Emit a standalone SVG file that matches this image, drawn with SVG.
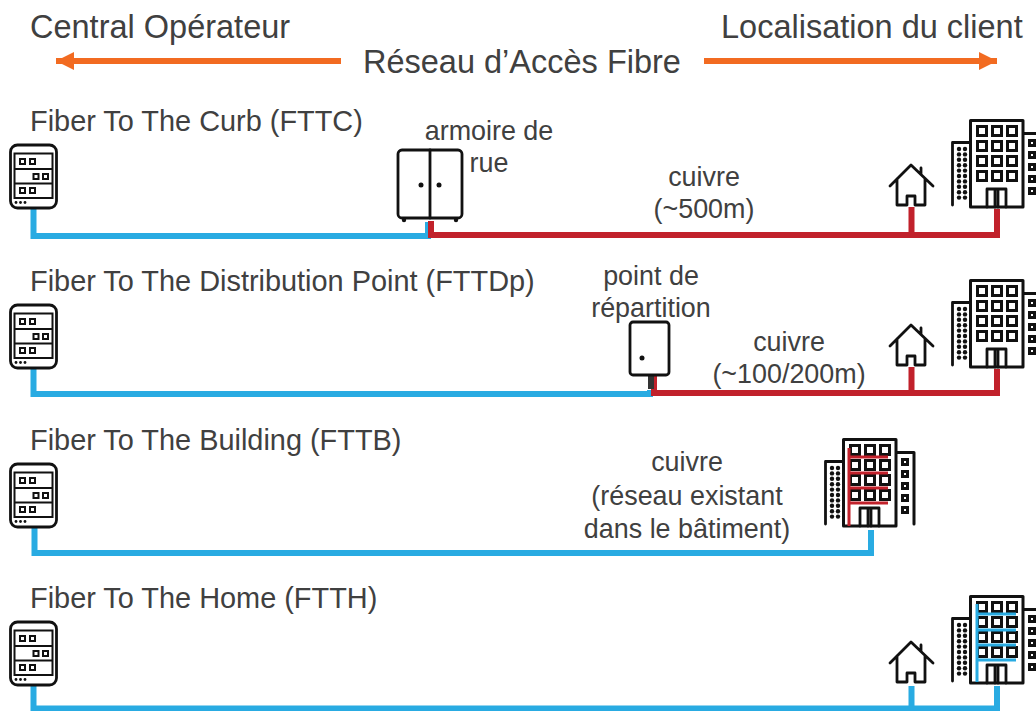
<svg xmlns="http://www.w3.org/2000/svg" width="1036" height="711" viewBox="0 0 1036 711">
<style>
text{font-family:"Liberation Sans",Arial,sans-serif;fill:#404040}
.h{font-size:32.500px}.r{font-size:28.900px}.l{font-size:26.900px}
.m{text-anchor:middle}
.k{fill:none;stroke:#111;stroke-width:2.800;stroke-linejoin:round;stroke-linecap:round}
.w{fill:none;stroke:#111;stroke-width:2.600;stroke-linejoin:miter}
.d{fill:#111}
.c{fill:none;stroke-width:6}
.b{stroke:#29ABE2}.e{stroke:#C1212B}
.o{stroke:#F26B21;stroke-width:6;fill:none}
.t{stroke-width:3;fill:none}
</style>
<defs>
<marker id="a" markerUnits="userSpaceOnUse" markerWidth="18" markerHeight="18" refX="18" refY="9" orient="auto-start-reverse"><path d="M0 0L18 9L0 18z" fill="#F26B21"/></marker>
<g id="srv">
<rect class="k" x="10.500" y="145" width="46" height="63" rx="7"/>
<path class="w" d="M14.500 198V153.500H52.500V198ZM14.500 169H52.500M14.500 183.500H52.500" style="stroke-width:2"/>
<path class="w" d="M20 159h5v5h-5zM30 159h5v5h-5zM33.500 174h5v5h-5zM43 174h5v5h-5zM20 188h5v5h-5zM30 188h5v5h-5z" style="stroke-width:2"/>
<circle class="d" cx="16" cy="202.500" r="1.400"/><circle class="d" cx="20.500" cy="202.500" r="1.400"/><circle class="d" cx="25" cy="202.500" r="1.400"/>
</g>
<g id="house">
<path class="k" d="M890 186L911 165L933 186M921 174V168M897 179V205H907V196H915V205H925V179"/>
</g>
<g id="bld">
<path class="k" d="M952.500 205V142.500H970"/>
<path class="k" d="M970.500 207V120.500H1023V207ZM1023 133.500H1041V205" style="stroke-width:3"/>
<path class="w" d="M977.500 126.500h9v9h-9zM992.500 126.500h9v9h-9zM1007.500 126.500h9v9h-9zM977.500 141.500h9v9h-9zM992.500 141.500h9v9h-9zM1007.500 141.500h9v9h-9zM977.500 156.500h9v9h-9zM992.500 156.500h9v9h-9zM1007.500 156.500h9v9h-9zM977.500 171.500h9v9h-9zM992.500 171.500h9v9h-9zM1007.500 171.500h9v9h-9z" style="stroke-width:3"/>
<path class="k" d="M987 207V189H1006V207M995 189V207M998 189V207"/>
<g class="d">
<circle cx="959" cy="149" r="2.200"/><circle cx="965" cy="149" r="2.200"/><circle cx="959" cy="154.400" r="2.200"/><circle cx="965" cy="154.400" r="2.200"/><circle cx="959" cy="159.800" r="2.200"/><circle cx="965" cy="159.800" r="2.200"/><circle cx="959" cy="165.200" r="2.200"/><circle cx="965" cy="165.200" r="2.200"/><circle cx="959" cy="170.600" r="2.200"/><circle cx="965" cy="170.600" r="2.200"/><circle cx="959" cy="176" r="2.200"/><circle cx="965" cy="176" r="2.200"/><circle cx="959" cy="181.400" r="2.200"/><circle cx="965" cy="181.400" r="2.200"/><circle cx="959" cy="186.800" r="2.200"/><circle cx="965" cy="186.800" r="2.200"/><circle cx="959" cy="192.200" r="2.200"/><circle cx="965" cy="192.200" r="2.200"/><circle cx="959" cy="197.600" r="2.200"/><circle cx="965" cy="197.600" r="2.200"/>
</g>
<path class="w" d="M1029.500 140.500h5v5h-5zM1029.500 152.500h5v5h-5zM1029.500 164.500h5v5h-5zM1029.500 176.500h5v5h-5zM1029.500 188.500h5v5h-5z" style="stroke-width:3"/>
</g>
</defs>
<g id="header">
<text class="h" x="30" y="38">Central Opérateur</text>
<text class="h" x="721" y="38">Localisation du client</text>
<text class="h" x="363" y="73">Réseau d’Accès Fibre</text>
<path class="o" d="M341 61H56" marker-end="url(#a)"/>
<path class="o" d="M704 61H997" marker-end="url(#a)"/>
</g>
<g id="connectors">
<path class="c b" d="M33.500 208V236H428V222"/>
<path class="c e" d="M431 221V235H997V209M911.500 207V235"/>
<path class="c b" d="M33.500 368V394H650V390"/>
<path class="c e" d="M654 375V393H997V369M911.500 367V393"/>
<path class="c" stroke="#333" d="M651 375V389"/>
<path class="c b" d="M34.500 527V553H871V530"/>
<path class="c b" d="M33.500 686V708.500H911.500V686M911.500 708.500H997V686"/>
</g>
<g id="fttc">
<text class="r" x="30" y="131">Fiber To The Curb (FTTC)</text>
<use href="#srv"/>
</g>
<g id="armoire">
<rect class="k" x="398" y="150" width="64" height="68" rx="4"/>
<path class="k" d="M430 150V218"/>
<circle class="d" cx="421" cy="185" r="2.500"/><circle class="d" cx="439" cy="185" r="2.500"/>
<circle class="d" cx="404" cy="220" r="2.200"/><circle class="d" cx="456" cy="220" r="2.200"/>
<text class="l m" x="489" y="140">armoire de</text>
<text class="l m" x="489" y="172">rue</text>
</g>
<g id="fttc-client">
<use href="#house"/><use href="#bld"/>
<text class="l m" x="704" y="186">cuivre</text>
<text class="l m" x="704" y="218">(~500m)</text>
</g>
<g id="fttdp">
<text class="r" x="30" y="291">Fiber To The Distribution Point (FTTDp)</text>
<use href="#srv" y="160"/>
</g>
<g id="point">
<rect class="k" x="630" y="322" width="39" height="53" rx="3"/>
<circle class="d" cx="642" cy="358" r="2.500"/>
<text class="l m" x="651" y="285">point de</text>
<text class="l m" x="651" y="317">répartition</text>
</g>
<g id="fttdp-client">
<use href="#house" y="160"/><use href="#bld" y="160"/>
<text class="l m" x="789" y="351">cuivre</text>
<text class="l m" x="789" y="383">(~100/200m)</text>
</g>
<g id="fttb">
<text class="r" x="30" y="450">Fiber To The Building (FTTB)</text>
<use href="#srv" y="319"/>
</g>
<g id="fttb-client">
<use href="#bld" x="-127" y="319"/>
<path class="t e" d="M849 448V526M849 457H888M849 473H888M849 488H888M849 503H888"/>
<text class="l m" x="687" y="471">cuivre</text>
<text class="l m" x="687" y="505">(réseau existant</text>
<text class="l m" x="687" y="538">dans le bâtiment)</text>
</g>
<g id="ftth">
<text class="r" x="30" y="608">Fiber To The Home (FTTH)</text>
<use href="#srv" y="477"/>
</g>
<g id="ftth-client">
<use href="#house" y="477"/><use href="#bld" y="476"/>
<path class="t b" d="M977 604V682M977 614H1016M977 630H1016M977 645H1016M977 660H1016"/>
</g>
</svg>
